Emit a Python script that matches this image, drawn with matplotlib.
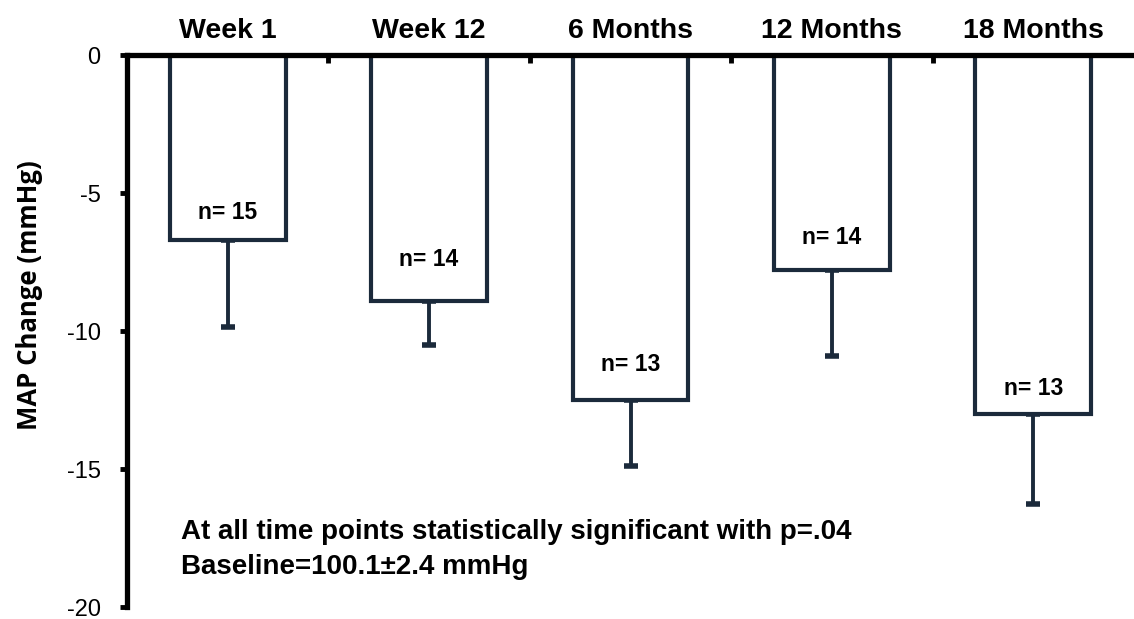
import matplotlib.pyplot as plt
import numpy as np

categories = ['Week 1', 'Week 12', '6 Months', '12 Months', '18 Months']
map_change = [-6.7, -8.9, -12.5, -7.8, -13.0]
sd_err = [3.15, 1.6, 2.4, 3.1, 3.25]
n_labels = ['n= 15', 'n= 14', 'n= 13', 'n= 14', 'n= 13']
n_label_y = [-5.7, -7.4, -11.2, -6.6, -12.1]
y_ticks = [0, -5, -10, -15, -20]

navy = '#1b2a3b'
plt.rcParams['font.family'] = ['Liberation Sans', 'DejaVu Sans']
plt.rcParams['axes.unicode_minus'] = False

fig = plt.figure(figsize=(11.34, 6.19), dpi=100)
ax = fig.add_axes([127/1134, 1 - 607/619, 1.0 - 127/1134, (607 - 55)/619])

x = np.arange(len(categories)) + 0.5
ax.bar(x, map_change, width=0.575, color='white', edgecolor=navy, linewidth=3, zorder=2)
# error bars only below the bars
ax.errorbar(x, map_change, yerr=[sd_err, [0]*len(sd_err)], fmt='none', ecolor=navy,
            elinewidth=2.8, capsize=5, capthick=4, zorder=1)

for xi, lab, ly in zip(x, n_labels, n_label_y):
    ax.text(xi, ly, lab, ha='center', va='center', fontsize=16.5, fontweight='bold')

ax.set_xlim(0, 5)
ax.set_ylim(-20, 0)

ax.spines['bottom'].set_visible(False)
ax.spines['right'].set_visible(False)
ax.spines['top'].set_linewidth(3.8)
ax.spines['left'].set_linewidth(3.8)

ax.set_xticks([1, 2, 3, 4])
ax.set_xticklabels([])
ax.set_xticks(x, minor=True)
ax.set_xticklabels(categories, minor=True, fontsize=20.5, fontweight='bold')
ax.tick_params(axis='x', which='major', top=True, bottom=False, direction='in',
               length=6, width=3.5)
ax.tick_params(axis='x', which='minor', top=True, bottom=False, labeltop=True,
               labelbottom=False, length=0, pad=8)

ax.set_yticks(y_ticks)
ax.tick_params(axis='y', direction='out', length=5, width=3.5, labelsize=17, pad=14)
fig.text(30/1134, 1 - 295/619, 'MAP Change (mmHg)', rotation=90, ha='center', va='center',
         fontsize=18.5, fontweight='bold', family=['Open Sans', 'DejaVu Sans'])

ax.text(0.27, -17.28, 'At all time points statistically significant with p=.04',
        fontsize=20, fontweight='bold', va='center')
ax.text(0.27, -18.55, 'Baseline=100.1\u00b12.4 mmHg',
        fontsize=20, fontweight='bold', va='center')

fig.savefig('out.png', dpi=100)
